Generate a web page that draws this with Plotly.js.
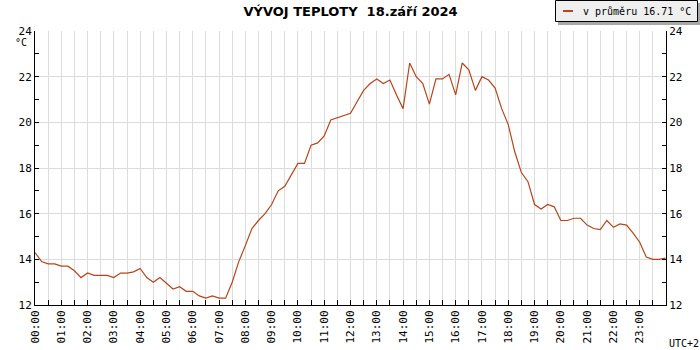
<!DOCTYPE html>
<html>
<head>
<meta charset="utf-8">
<script src="https://cdn.plot.ly/plotly-3.0.1.min.js"></script>
<style>html,body{margin:0;padding:0;background:#fff;}#chart{width:700px;height:350px;}</style>
</head>
<body>
<div id="chart"></div>
<script>
// Temperature readings every 15 minutes, 18.9.2024 (°C)
var temps = [
  14.3, 13.9, 13.8, 13.8, 13.7, 13.7, 13.5, 13.2,
  13.4, 13.3, 13.3, 13.3, 13.2, 13.4, 13.4, 13.45,
  13.6, 13.2, 13.0, 13.2, 12.95, 12.7, 12.8, 12.6,
  12.6, 12.4, 12.3, 12.4, 12.3, 12.3, 13.0, 13.9,
  14.6, 15.35, 15.7, 16.0, 16.4, 17.0, 17.2, 17.7,
  18.2, 18.2, 19.0, 19.1, 19.4, 20.1, 20.2, 20.3,
  20.4, 20.9, 21.4, 21.7, 21.9, 21.7, 21.85, 21.2,
  20.6, 22.6, 22.0, 21.7, 20.8, 21.9, 21.9, 22.1,
  21.2, 22.6, 22.3, 21.4, 22.0, 21.85, 21.5, 20.6,
  19.9, 18.7, 17.8, 17.4, 16.4, 16.2, 16.4, 16.3,
  15.7, 15.7, 15.8, 15.8, 15.5, 15.35, 15.3, 15.7,
  15.4, 15.55, 15.5, 15.15, 14.75, 14.1, 14.0, 14.0,
  14.05
];
var hourLabels = ['00:00','01:00','02:00','03:00','04:00','05:00','06:00','07:00',
  '08:00','09:00','10:00','11:00','12:00','13:00','14:00','15:00','16:00','17:00',
  '18:00','19:00','20:00','21:00','22:00','23:00'];
var seriesName = 'v průměru 16.71 °C';
var titleText = 'VÝVOJ TEPLOTY\u00a0 18.září 2024';
var yTicks = [12, 14, 16, 18, 20, 22, 24];

var day = '2024-09-18';
function pad(n){return (n<10?'0':'')+n;}
var times = temps.map(function(v,i){
  var m = i*15; if (i === temps.length-1) m = 23*60+59;
  return day + ' ' + pad(Math.floor(m/60)) + ':' + pad(m%60);
});
var tickvals = [], ticktext = [];
for (var h = 0; h < 24; h++) {
  tickvals.push(day + ' ' + hourLabels[h]);
  ticktext.push(hourLabels[h]);
  tickvals.push(day + ' ' + pad(h) + ':30');
  ticktext.push('');
}

var lineColor = '#b5451b';
var gridColor = '#dcdcdc';
var mono = 'DejaVu Sans Mono, monospace';

var traces = [
  {x: times, y: temps, type: 'scatter', mode: 'lines', name: seriesName,
   line: {color: lineColor, width: 1.2}, showlegend: false, hoverinfo: 'skip'},
  {x: times, y: temps, type: 'scatter', mode: 'lines', yaxis: 'y2',
   line: {color: 'rgba(0,0,0,0)', width: 0}, showlegend: false, hoverinfo: 'skip'}
];

// pixel helpers for legend placement (paper coords)
var L = 35, R = 666, T = 31, B = 305;
function px(x){return (x - L)/(R - L);}
function py(y){return (B - y)/(B - T);}

var layout = {
  width: 700, height: 350,
  margin: {l: 35, r: 34, t: 31, b: 45, pad: 0},
  paper_bgcolor: '#ffffff', plot_bgcolor: '#ffffff',
  showlegend: false,
  title: {text: titleText, x: 0.5, xref: 'paper', xanchor: 'center', y: 1, yref: 'container', yanchor: 'top', pad: {t: 7},
          font: {family: 'DejaVu Sans, Verdana, sans-serif', size: 13, color: '#000', weight: 'bold'}},
  xaxis: {
    type: 'date', range: [day + ' 00:00', '2024-09-19 00:00'],
    tickmode: 'array', tickvals: tickvals, ticktext: ticktext,
    tickangle: -90, ticks: 'inside', ticklen: 5, tickcolor: '#000', tickwidth: 1,
    showline: true, linecolor: '#000', linewidth: 1,
    showgrid: true, gridcolor: gridColor, gridwidth: 1, zeroline: false,
    tickfont: {family: mono, size: 11, color: '#000'}, fixedrange: true
  },
  yaxis: {
    range: [12, 24], tickmode: 'array', tickvals: yTicks,
    ticks: 'inside', ticklen: 4, tickcolor: '#000',
    minor: {dtick: 1, tick0: 12, ticks: 'inside', ticklen: 4, tickcolor: '#000', showgrid: false},
    showline: true, linecolor: '#000', linewidth: 1,
    showgrid: true, gridcolor: gridColor, zeroline: false,
    tickfont: {family: mono, size: 11, color: '#000'}, fixedrange: true
  },
  yaxis2: {
    range: [12, 24], overlaying: 'y', side: 'right', tickmode: 'array', tickvals: yTicks,
    ticks: 'inside', ticklen: 4, tickcolor: '#000',
    minor: {dtick: 1, tick0: 12, ticks: 'inside', ticklen: 4, tickcolor: '#000', showgrid: false},
    showline: true, linecolor: '#000', linewidth: 1,
    showgrid: false, zeroline: false,
    tickfont: {family: mono, size: 11, color: '#000'}, fixedrange: true
  },
  shapes: [
    {type: 'rect', xref: 'paper', yref: 'paper', x0: px(558), x1: px(700), y0: py(3), y1: py(25),
     fillcolor: '#a8a8a8', line: {width: 0}, layer: 'above'},
    {type: 'rect', xref: 'paper', yref: 'paper', x0: px(555.5), x1: px(697.5), y0: py(0.5), y1: py(21.5),
     fillcolor: '#efefef', line: {color: '#000', width: 1}, layer: 'above'},
    {type: 'line', xref: 'paper', yref: 'paper', x0: px(563), x1: px(573), y0: py(11), y1: py(11),
     line: {color: lineColor, width: 2}, layer: 'above'}
  ],
  annotations: [
    {text: seriesName, xref: 'paper', yref: 'paper', x: px(581), y: py(11), xanchor: 'left', yanchor: 'middle',
     showarrow: false, font: {family: mono, size: 10, color: '#000'}},
    {text: '°C', xref: 'paper', yref: 'paper', x: px(29), y: py(43), xanchor: 'right', yanchor: 'middle',
     showarrow: false, font: {family: mono, size: 10, color: '#000'}},
    {text: 'UTC+2', xref: 'paper', yref: 'paper', x: px(667), y: py(343), xanchor: 'left', yanchor: 'middle',
     showarrow: false, font: {family: mono, size: 10, color: '#000'}}
  ]
};

Plotly.newPlot('chart', traces, layout, {staticPlot: true, displayModeBar: false});
</script>
</body>
</html>
